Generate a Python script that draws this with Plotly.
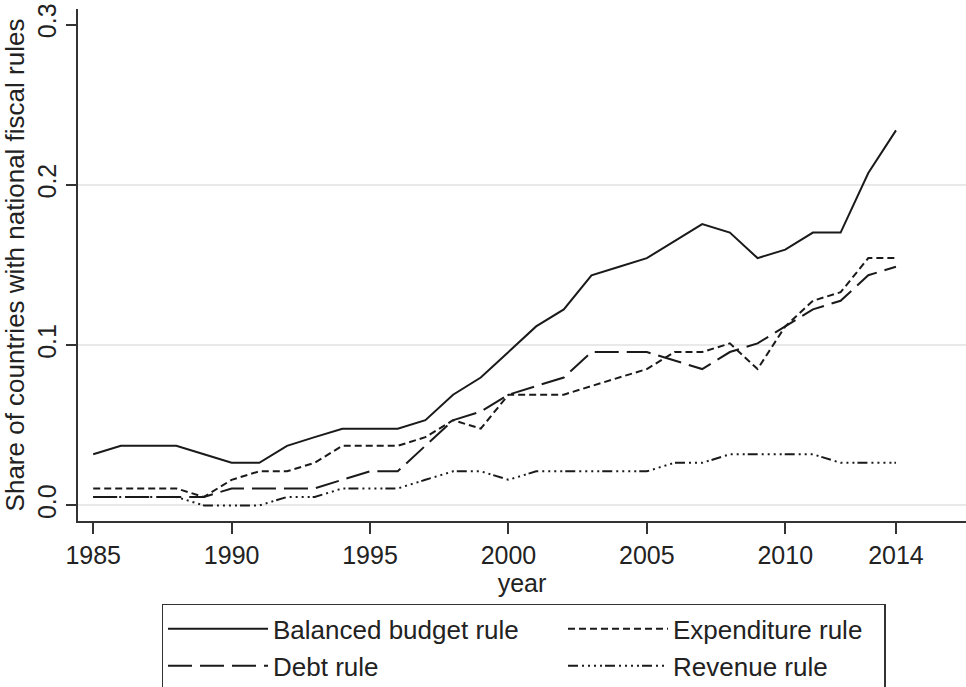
import plotly.graph_objects as go

# Share of countries with each type of national fiscal rule, 1985-2014
years = list(range(1985, 2015))
balanced_budget = [0.0319, 0.0372, 0.0372, 0.0372, 0.0319, 0.0266, 0.0266, 0.0372, 0.0426, 0.0479,
                   0.0479, 0.0479, 0.0532, 0.0691, 0.0798, 0.0957, 0.1117, 0.1223, 0.1436, 0.1489,
                   0.1543, 0.1649, 0.1755, 0.1702, 0.1543, 0.1596, 0.1702, 0.1702, 0.2074, 0.2340]
expenditure = [0.0106, 0.0106, 0.0106, 0.0106, 0.0053, 0.0160, 0.0213, 0.0213, 0.0266, 0.0372,
               0.0372, 0.0372, 0.0426, 0.0532, 0.0479, 0.0691, 0.0691, 0.0691, 0.0745, 0.0798,
               0.0851, 0.0957, 0.0957, 0.1011, 0.0851, 0.1117, 0.1277, 0.1330, 0.1543, 0.1543]
debt = [0.0053, 0.0053, 0.0053, 0.0053, 0.0053, 0.0106, 0.0106, 0.0106, 0.0106, 0.0160,
        0.0213, 0.0213, 0.0372, 0.0532, 0.0585, 0.0691, 0.0745, 0.0798, 0.0957, 0.0957,
        0.0957, 0.0904, 0.0851, 0.0957, 0.1011, 0.1117, 0.1223, 0.1277, 0.1436, 0.1489]
revenue = [0.0053, 0.0053, 0.0053, 0.0053, 0.0, 0.0, 0.0, 0.0053, 0.0053, 0.0106,
           0.0106, 0.0106, 0.0160, 0.0213, 0.0213, 0.0160, 0.0213, 0.0213, 0.0213, 0.0213,
           0.0213, 0.0266, 0.0266, 0.0319, 0.0319, 0.0319, 0.0319, 0.0266, 0.0266, 0.0266]

x_tick_vals = [1985, 1990, 1995, 2000, 2005, 2010, 2014]
y_tick_vals = [0.0, 0.1, 0.2, 0.3]
y_tick_text = ["0.0", "0.1", "0.2", "0.3"]

INK = "#1a1a1a"
FONT = "Liberation Sans, Arial, sans-serif"

# name, values, dash pattern, legend entry width (left column wider than right)
series = [
    ("Balanced budget rule", balanced_budget, "solid", 285),
    ("Expenditure rule", expenditure, "7px,4px", 206),
    ("Debt rule", debt, "24px,8px", 285),
    ("Revenue rule", revenue, "10px,4px,2px,4px,2px,4px,2px,4px,2px,3px", 206),
]

fig = go.Figure()
for name, values, dash, entry_w in series:
    fig.add_trace(go.Scatter(
        x=years, y=values, name=name, mode="lines",
        line=dict(color=INK, width=2, dash=dash),
        legendwidth=entry_w,
    ))

fig.update_layout(
    width=966, height=687,
    margin=dict(l=78, r=0, t=9, b=166, autoexpand=False),
    plot_bgcolor="white", paper_bgcolor="white",
    font=dict(family=FONT, size=25, color="#222"),
    showlegend=True,
    legend=dict(
        orientation="h", x=0.5017, xanchor="center", y=-0.162, yanchor="top",
        entrywidthmode="pixels", itemwidth=100,
        bordercolor="#333", borderwidth=1.5, bgcolor="white",
        font=dict(family=FONT, size=26, color="#222"),
        tracegroupgap=0,
    ),
)

fig.update_xaxes(
    range=[1984.45, 2016.53], tickmode="array", tickvals=x_tick_vals,
    ticks="outside", ticklen=11, tickwidth=1.5, tickcolor="#333",
    showline=True, linecolor="#333", linewidth=1.5, showgrid=False, zeroline=False,
    title=dict(text="year", standoff=0, font=dict(size=25)),
)
fig.update_yaxes(
    range=[-0.0097, 0.3097], tickmode="array", tickvals=y_tick_vals, ticktext=y_tick_text,
    tickangle=-90, ticks="outside", ticklen=10, tickwidth=1.5, tickcolor="#333",
    showline=True, linecolor="#333", linewidth=1.5, zeroline=False, showgrid=False,
    minor=dict(tickmode="array", tickvals=[0.0, 0.1, 0.2], showgrid=True,
               gridcolor="#e9e9e9", gridwidth=2, ticks=""),
    title=dict(text="Share of countries with national fiscal rules", standoff=3,
               font=dict(size=26)),
)

fig.write_html("out.html")
